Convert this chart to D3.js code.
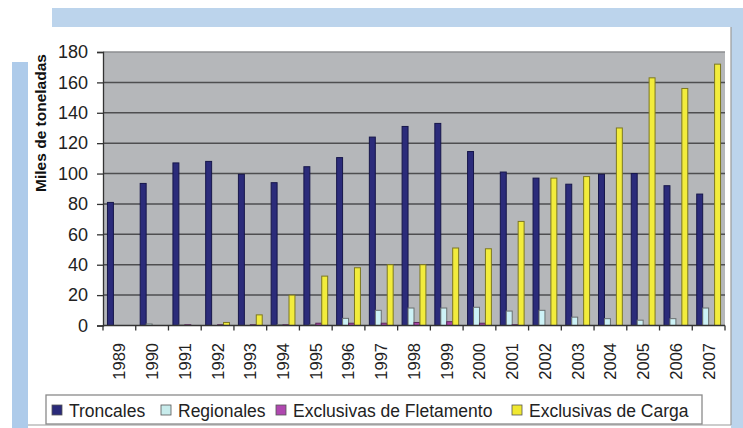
<!DOCTYPE html>
<html><head><meta charset="utf-8">
<script src="https://cdn.jsdelivr.net/npm/d3@7"></script>
<style>body{margin:0;background:#fff;}svg{display:block;font-family:"Liberation Sans",Arial,sans-serif;}</style>
</head><body>
<script>
const years = ["1989","1990","1991","1992","1993","1994","1995","1996","1997","1998","1999","2000","2001","2002","2003","2004","2005","2006","2007"];
const seriesNames = ["Troncales","Regionales","Exclusivas de Fletamento","Exclusivas de Carga"];
const troncales   = [81,93.5,107,108,99.5,94,104.5,110.5,124,131,133,114.5,101,97,93,99.5,100,92,86.5];
const regionales  = [0,1,0.3,0,0,0.5,0.5,4.7,10,11.5,11.5,12,9.5,10,5.5,4.5,3.5,4.5,11.5];
const fletamento  = [0,0,0.5,0.5,0.5,0.5,1.5,1.5,1.5,2,2.5,1.5,0.5,0,0,0,0,0,0];
const carga       = [0,0,0,2,7,20,32.5,38,40,40,51,50.5,68.5,97,98,130,163,156,172];
const yTicks = [0,20,40,60,80,100,120,140,160,180];
const yTitle = "Miles de toneladas";

const fills   = ["#2B2B7A","#CDF2F6","#A845A8","#F2EC3C"];
const strokes = ["#16164a","#6a7070","#5a2a5a","#7d7820"];
const legendFills = ["#2A2A7A","#C8ECEC","#B048B0","#F0E830"];

const W = 743, H = 428;
const svg = d3.select("body").append("svg").attr("width", W).attr("height", H);

// decorative frame
svg.append("rect").attr("x",0).attr("y",0).attr("width",W).attr("height",H).attr("fill","#fff");
svg.append("rect").attr("x",52).attr("y",8).attr("width",W-52).attr("height",19).attr("fill","#BCD4EC");
svg.append("rect").attr("x",12).attr("y",62).attr("width",16).attr("height",H-62).attr("fill","#AECBEA");
svg.append("rect").attr("x",731).attr("y",27).attr("width",12).attr("height",H-27).attr("fill","#BCD4EC");
svg.append("line").attr("x1",731).attr("x2",731).attr("y1",27).attr("y2",425).attr("stroke","#9a9a9a").attr("stroke-width",1.2);
svg.append("line").attr("x1",28).attr("x2",731).attr("y1",425).attr("y2",425).attr("stroke","#9a9a9a").attr("stroke-width",1.2);

const x0 = 103, x1 = 725, yTop = 52, yBot = 325.5;
const x = d3.scaleBand().domain(years).range([x0, x1]).padding(0);
const xs = d3.scaleBand().domain(seriesNames).range([0, x.bandwidth()]).paddingInner(0).paddingOuter(0.75);
const y = d3.scaleLinear().domain([0,180]).range([yBot, yTop]);

// plot area
svg.append("rect").attr("x",x0).attr("y",yTop).attr("width",x1-x0).attr("height",yBot-yTop).attr("fill","#B5B7BA");
svg.append("line").attr("x1",x0).attr("x2",x1).attr("y1",yTop).attr("y2",yTop).attr("stroke","#8c8e90").attr("stroke-width",1.5);

// gridlines
svg.append("g").selectAll("line").data(yTicks.filter(t => t>0 && t<180)).join("line")
  .attr("x1",x0).attr("x2",x1).attr("y1",d=>y(d)).attr("y2",d=>y(d))
  .attr("stroke","#4e4e50").attr("stroke-width",1.5);

// bars
const allSeries = [troncales, regionales, fletamento, carga];
allSeries.forEach((vals, si) => {
  svg.append("g").selectAll("rect").data(vals.map((v,i)=>({v, yr: years[i]})).filter(d=>d.v>0)).join("rect")
    .attr("x", d => x(d.yr) + xs(seriesNames[si]))
    .attr("y", d => y(d.v))
    .attr("width", xs.bandwidth())
    .attr("height", d => yBot - y(d.v))
    .attr("fill", fills[si]).attr("stroke", strokes[si]).attr("stroke-width", 1);
});

// y axis
const yAxis = d3.axisLeft(y).tickValues(yTicks).tickSize(6).tickPadding(9);
const gy = svg.append("g").attr("transform",`translate(${x0},0)`).call(yAxis);
gy.select(".domain").attr("stroke","#333").attr("stroke-width",1.3);
gy.selectAll(".tick line").attr("stroke","#333").attr("stroke-width",1.3);
gy.selectAll(".tick text").attr("font-size","18px").attr("fill","#222").attr("font-family","Liberation Sans, Arial, sans-serif");

// x axis
const gx = svg.append("g").attr("transform",`translate(0,${yBot})`);
gx.append("line").attr("x1",x0).attr("x2",x1).attr("stroke","#333").attr("stroke-width",1.3);
gx.selectAll("line.tk").data(d3.range(years.length+1)).join("line").attr("class","tk")
  .attr("x1",i=>x0+i*x.step()).attr("x2",i=>x0+i*x.step()).attr("y1",0).attr("y2",5)
  .attr("stroke","#333").attr("stroke-width",1.3);
gx.selectAll("text").data(years).join("text")
  .attr("transform", d => `translate(${x(d)+x.bandwidth()/2},${343-yBot}) rotate(-90)`)
  .attr("text-anchor","end").attr("dy","0.36em")
  .attr("font-size","16.5px").attr("fill","#222").text(d=>d);

// y title
svg.append("text").attr("transform","translate(46,123) rotate(-90)")
  .attr("text-anchor","middle").attr("font-weight","bold").attr("font-size","15.5px").attr("fill","#111")
  .text(yTitle);

// legend
const lg = svg.append("g");
lg.append("rect").attr("x",46).attr("y",395).attr("width",656).attr("height",29)
  .attr("fill","#fff").attr("stroke","#8a8a8a").attr("stroke-width",1.3);
const markerX = [52,161,276,512];
seriesNames.forEach((n,i) => {
  lg.append("rect").attr("x",markerX[i]).attr("y",405).attr("width",10).attr("height",10)
    .attr("fill",legendFills[i]).attr("stroke","#555").attr("stroke-width",0.8);
  lg.append("text").attr("x",markerX[i]+17).attr("y",416.5).attr("font-size","17.5px").attr("fill","#222").text(n);
});
</script>
</body></html>
